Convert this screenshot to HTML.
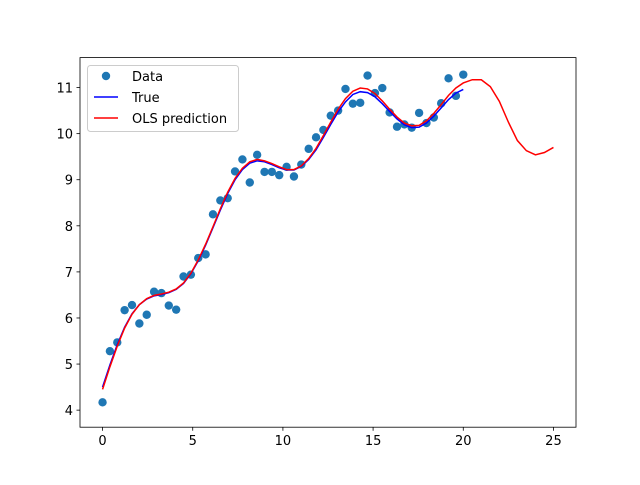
<!DOCTYPE html>
<html><head><meta charset="utf-8"><style>
body{margin:0;background:#fff}
svg text{font-family:"DejaVu Sans","Liberation Sans",sans-serif;font-size:13px;fill:#000}
</style></head><body>
<svg id="chart" width="640" height="480"></svg>
<script>
const dataX = [0,0.408,0.816,1.224,1.633,2.041,2.449,2.857,3.265,3.673,4.082,4.490,4.898,5.306,5.714,6.122,6.531,6.939,7.347,7.755,8.163,8.571,8.980,9.388,9.796,10.204,10.612,11.020,11.429,11.837,12.245,12.653,13.061,13.469,13.878,14.286,14.694,15.102,15.510,15.918,16.327,16.735,17.143,17.551,17.959,18.367,18.776,19.184,19.592,20];
const dataY = [4.17,5.28,5.47,6.17,6.28,5.88,6.07,6.57,6.54,6.27,6.18,6.90,6.94,7.30,7.38,8.25,8.55,8.60,9.18,9.44,8.94,9.54,9.17,9.17,9.10,9.28,9.07,9.33,9.67,9.92,10.08,10.39,10.50,10.97,10.65,10.67,11.26,10.88,10.99,10.46,10.15,10.20,10.13,10.45,10.23,10.35,10.66,11.20,10.82,11.28];
const trueY = [4.50,4.98,5.42,5.80,6.09,6.29,6.41,6.48,6.51,6.55,6.62,6.75,6.96,7.24,7.58,7.96,8.34,8.70,9.00,9.22,9.36,9.41,9.39,9.33,9.26,9.21,9.21,9.29,9.44,9.65,9.92,10.20,10.47,10.69,10.85,10.91,10.89,10.80,10.65,10.48,10.32,10.19,10.13,10.14,10.23,10.38,10.56,10.74,10.88,10.96];
const predX = [0,0.408,0.816,1.224,1.633,2.041,2.449,2.857,3.265,3.673,4.082,4.490,4.898,5.306,5.714,6.122,6.531,6.939,7.347,7.755,8.163,8.571,8.980,9.388,9.796,10.204,10.612,11.020,11.429,11.837,12.245,12.653,13.061,13.469,13.878,14.286,14.694,15.102,15.510,15.918,16.327,16.735,17.143,17.551,17.959,18.367,18.776,19.184,19.592,20,20.5,21,21.5,22,22.5,23,23.5,24,24.5,25];
const predY = [4.45,4.94,5.39,5.78,6.08,6.29,6.42,6.49,6.52,6.56,6.63,6.76,6.97,7.26,7.60,7.98,8.37,8.73,9.03,9.25,9.39,9.44,9.41,9.35,9.28,9.22,9.22,9.30,9.46,9.68,9.96,10.25,10.53,10.76,10.92,10.99,10.97,10.87,10.71,10.53,10.36,10.23,10.17,10.18,10.28,10.44,10.63,10.83,10.99,11.10,11.17,11.17,11.02,10.70,10.25,9.85,9.63,9.54,9.59,9.70];
const xTicks = [0,5,10,15,20,25];
const yTicks = [4,5,6,7,8,9,10,11];

const NS="http://www.w3.org/2000/svg";
const svg=document.getElementById('chart');
const L=80,R=576,T=57.6,B=427.2,xmin=-1.25,xmax=26.25,ymin=3.63,ymax=11.65;
const sx=v=>L+(v-xmin)/(xmax-xmin)*(R-L);
const sy=v=>B-(v-ymin)/(ymax-ymin)*(B-T);
function mk(tag,attrs,parent){const e=document.createElementNS(NS,tag);for(const k in attrs)e.setAttribute(k,attrs[k]);(parent||svg).appendChild(e);return e;}

const axes=mk('g',{});



xTicks.forEach(t=>{
  const g=mk('g',{},axes);
  
  
  mk('line',{x1:sx(t),x2:sx(t),y1:B,y2:B+3.5,stroke:'#000','stroke-width':0.8},g);
  const tx=mk('text',{x:sx(t),y:B+18,'text-anchor':'middle'},g);tx.textContent=t;
});
yTicks.forEach(t=>{
  const g=mk('g',{},axes);
  
  
  mk('line',{x1:L-3.5,x2:L,y1:sy(t),y2:sy(t),stroke:'#000','stroke-width':0.8},g);
  const tx=mk('text',{x:L-7,y:sy(t)+5,'text-anchor':'end'},g);tx.textContent=t;
});

const pts=mk('g',{});


dataX.forEach((x,i)=>{
  const c=mk('circle',{cx:sx(x),cy:sy(dataY[i]),r:4.2,fill:'#1f77b4'},pts);
  
  
});

const tl=mk('polyline',{points:dataX.map((x,i)=>sx(x)+','+sy(trueY[i])).join(' '),fill:'none',stroke:'#0000ff','stroke-width':1.5});


const pl=mk('polyline',{points:predX.map((x,i)=>sx(x)+','+sy(predY[i])).join(' '),fill:'none',stroke:'#ff0000','stroke-width':1.5});



const frame=mk('rect',{x:L,y:T,width:R-L,height:B-T,fill:'none',stroke:'#000','stroke-width':0.8});



const lg=mk('g',{});


mk('rect',{x:87.5,y:65.5,width:151,height:66,rx:3,fill:'#fff','fill-opacity':0.8,stroke:'#ccc'},lg);
const e1=mk('g',{},lg);


mk('circle',{cx:106,cy:76,r:4.2,fill:'#1f77b4'},e1);
let t=mk('text',{x:132,y:81},e1);t.textContent='Data';
const e2=mk('g',{},lg);


mk('line',{x1:94,x2:118,y1:97,y2:97,stroke:'#0000ff','stroke-width':1.5},e2);
t=mk('text',{x:132,y:102},e2);t.textContent='True';
const e3=mk('g',{},lg);


mk('line',{x1:94,x2:118,y1:118,y2:118,stroke:'#ff0000','stroke-width':1.5},e3);
t=mk('text',{x:132,y:123},e3);t.textContent='OLS prediction';
</script>
</body></html>
